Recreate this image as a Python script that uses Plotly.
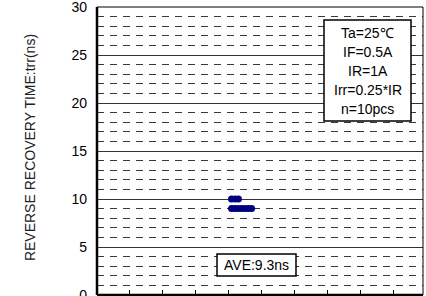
import plotly.graph_objects as go

# Data: 10 samples of reverse recovery time (ns), slight x jitter per sample
sample_x = [4.09, 4.20, 4.30, 4.09, 4.19, 4.29, 4.40, 4.50, 4.60, 4.70]
trr_ns = [10, 10, 10, 9, 9, 9, 9, 9, 9, 9]
y_ticks = [0, 5, 10, 15, 20, 25, 30]
x_ticks = [1, 2, 3, 4, 5, 6, 7, 8, 9]
cond_lines = ["Ta=25℃", "IF=0.5A", "IR=1A", "Irr=0.25*IR", "n=10pcs"]
ave_label = "AVE:9.3ns"

FONT = "Liberation Sans, Arial, sans-serif"

fig = go.Figure()
fig.add_trace(go.Scatter(
    x=sample_x, y=trr_ns, mode="markers",
    marker=dict(symbol="circle", size=7, color="#000080", line=dict(width=0)),
    showlegend=False, hoverinfo="skip",
))

fig.update_layout(
    template="none",
    width=426, height=296,
    margin=dict(l=97, r=3, t=7, b=1, autoexpand=False),
    paper_bgcolor="white", plot_bgcolor="white",
    font=dict(family=FONT, color="black"),
    xaxis=dict(range=[0, 9.91], showgrid=False, zeroline=False, automargin=False,
               tickvals=x_ticks, ticks="inside", ticklen=5, tickwidth=1,
               tickcolor="black", showticklabels=False, showline=False),
    yaxis=dict(range=[0, 30], tickvals=y_ticks, showgrid=True, automargin=False,
               ticklabeloverflow="allow", ticklabelstandoff=9,
               gridcolor="#333333", gridwidth=1, zeroline=False, ticks="",
               showline=False, tickfont=dict(size=14, color="black"),
               minor=dict(dtick=1, showgrid=True, gridcolor="#3a3a3a",
                          gridwidth=1, griddash="7px,6px")),
)

# Plot frame
fig.add_shape(type="rect", xref="paper", yref="paper", x0=0, x1=1, y0=0, y1=1,
              line=dict(color="black", width=1), layer="above")
fig.add_shape(type="line", xref="paper", yref="paper", x0=0, x1=0, y0=0, y1=1,
              line=dict(color="black", width=2.5), layer="above")
fig.add_shape(type="line", xref="paper", yref="paper", x0=0, x1=1, y0=0, y1=0,
              line=dict(color="black", width=2.5), layer="above")

# Y axis title
fig.add_annotation(xref="paper", yref="paper", x=(30 - 97) / 326, y=0.51,
                   text="REVERSE RECOVERY TIME:trr(ns)", textangle=-90,
                   showarrow=False, font=dict(size=14, color="#222222"),
                   xanchor="center", yanchor="middle")

def px_x(p):
    return (p - 97) / 326

def px_y(p):
    return (295 - p) / 288

# Conditions box
fig.add_shape(type="rect", xref="paper", yref="paper",
              x0=px_x(324), x1=px_x(411), y0=px_y(121), y1=px_y(20),
              line=dict(color="black", width=1.5), fillcolor="white", layer="above")
for i, t in enumerate(cond_lines):
    fig.add_annotation(xref="paper", yref="paper", x=px_x(367.5), y=px_y(33 + 19 * i),
                       text=t, showarrow=False, font=dict(size=14, color="black"),
                       xanchor="center", yanchor="middle")

# Average box
fig.add_shape(type="rect", xref="paper", yref="paper",
              x0=px_x(217), x1=px_x(296), y0=px_y(276), y1=px_y(254),
              line=dict(color="black", width=1.5), fillcolor="white", layer="above")
fig.add_annotation(xref="paper", yref="paper", x=px_x(256.5), y=px_y(265),
                   text=ave_label, showarrow=False, font=dict(size=14, color="black"),
                   xanchor="center", yanchor="middle")

fig.write_html("out.html", config={"displayModeBar": False},
               post_script="document.body.style.margin='0';document.body.style.overflow='hidden';")
